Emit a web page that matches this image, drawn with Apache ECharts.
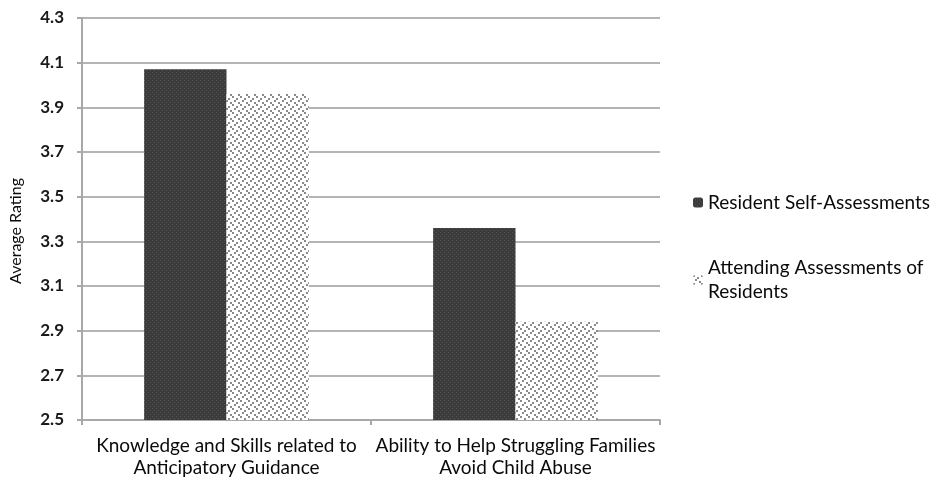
<!DOCTYPE html>
<html>
<head>
<meta charset="utf-8">
<script src="https://cdn.jsdelivr.net/npm/echarts@6/dist/echarts.min.js"></script>
<style>
  html, body { margin: 0; padding: 0; background: #fff; }
  #chart { width: 937px; height: 483px; }
</style>
</head>
<body>
<div id="chart"></div>
<script>
// Survey categories and average ratings
const categories = [
  'Knowledge and Skills related to\nAnticipatory Guidance',
  'Ability to Help Struggling Families\nAvoid Child Abuse'
];
const seriesNames = ['Resident Self-Assessments', 'Attending Assessments of Residents'];
const residentSelf = [4.07, 3.36];
const attendingOfResidents = [3.96, 2.94];
const yTicks = { min: 2.5, max: 4.3, step: 0.2 };

// Dense dark fill with faint lighter dots
function darkPattern() {
  const c = document.createElement('canvas');
  c.width = 4; c.height = 4;
  const g = c.getContext('2d');
  g.fillStyle = '#3b3b3b';
  g.fillRect(0, 0, 4, 4);
  g.fillStyle = '#555555';
  g.fillRect(0, 0, 1, 1);
  g.fillRect(2, 2, 1, 1);
  return c;
}

// White fill with scattered grey dots in diagonal rows
function lightPattern() {
  const c = document.createElement('canvas');
  c.width = 8; c.height = 8;
  const g = c.getContext('2d');
  g.fillStyle = '#ffffff';
  g.fillRect(0, 0, 8, 8);
  g.fillStyle = '#8a8a8a';
  g.fillRect(0, 0, 2, 2);
  g.fillRect(4, 2, 2, 2);
  g.fillRect(2, 4, 2, 2);
  g.fillRect(6, 6, 2, 2);
  return c;
}

const font = 'Lato, "Open Sans", sans-serif';
const chart = echarts.init(document.getElementById('chart'), null, { renderer: 'canvas' });

chart.setOption({
  backgroundColor: '#ffffff',
  animation: false,
  grid: { left: 80, right: 277, top: 18, bottom: 63, containLabel: false },
  legend: [
    {
      data: [seriesNames[0]],
      orient: 'vertical',
      left: 688, top: 188,
      itemWidth: 10, itemHeight: 10, itemGap: 8,
      textStyle: { fontFamily: font, fontSize: 19, color: '#0a0a0a' }
    },
    {
      data: [seriesNames[1]],
      orient: 'vertical',
      left: 688, top: 239,
      itemWidth: 10, itemHeight: 10,
      formatter: () => 'Attending Assessments of\nResidents',
      textStyle: { fontFamily: font, fontSize: 19, color: '#0a0a0a', lineHeight: 24, padding: [24, 0, 0, 0] }
    }
  ],
  xAxis: {
    type: 'category',
    data: categories,
    axisLine: { lineStyle: { color: '#a8a8a8', width: 2 } },
    axisTick: { show: true, length: 5, lineStyle: { color: '#a8a8a8', width: 2 } },
    axisLabel: { interval: 0, fontFamily: font, fontSize: 19, color: '#0a0a0a', margin: 15, lineHeight: 22 }
  },
  yAxis: {
    type: 'value',
    min: yTicks.min, max: yTicks.max, interval: yTicks.step,
    name: 'Average Rating',
    nameLocation: 'middle',
    nameGap: 58,
    nameTextStyle: { fontFamily: font, fontSize: 16, color: '#0a0a0a', padding: [0, 0, 0, -24] },
    axisLine: { show: true, lineStyle: { color: '#a8a8a8', width: 2 } },
    axisTick: { show: true, length: 5, lineStyle: { color: '#a8a8a8', width: 2 } },
    axisLabel: {
      fontFamily: font, fontSize: 17, fontWeight: 'bold', color: '#1a1a1a', margin: 18,
      formatter: v => v.toFixed(1)
    },
    splitLine: { lineStyle: { color: '#b4b4b4', width: 2 } }
  },
  series: [
    {
      name: seriesNames[0],
      type: 'bar',
      data: residentSelf,
      barGap: '0%',
      barCategoryGap: '43%',
      itemStyle: { color: { image: darkPattern(), repeat: 'repeat' } }
    },
    {
      name: seriesNames[1],
      type: 'bar',
      data: attendingOfResidents,
      itemStyle: { color: { image: lightPattern(), repeat: 'repeat' } }
    }
  ]
});
</script>
</body>
</html>
